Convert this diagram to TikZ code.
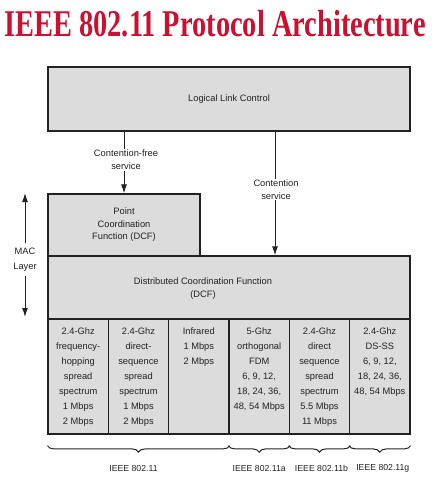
\documentclass[tikz,border=0pt]{standalone}
\usepackage{fontspec}
\setmainfont{Liberation Sans}
\newfontfamily\titlefont{Liberation Serif}
\usetikzlibrary{arrows.meta,decorations.pathreplacing}
\definecolor{boxfill}{HTML}{DCDCDC}
\definecolor{titlered}{HTML}{CC1030}
\definecolor{ink}{HTML}{222222}
\begin{document}
\begin{tikzpicture}[x=1pt,y=-1pt,
  box/.style={draw=ink, line width=1.3pt, fill=boxfill, inner sep=0pt},
  lbl/.style={font=\fontsize{9.3}{13}\selectfont, text=ink, align=center, inner sep=1pt},
  celltext/.style={font=\fontsize{9.3}{15}\selectfont, text=ink, align=center, anchor=north, inner sep=0pt},
  arr/.style={draw=ink, line width=1pt, -{Latex[length=9pt,width=6pt]}},
  brc/.style={draw=ink, line width=1pt, decorate, decoration={brace, mirror, amplitude=6.5pt}},
  brlbl/.style={font=\fontsize{8.7}{10}\selectfont, text=ink, midway, yshift=-23pt},
]
\fill[white] (0,0) rectangle (447,481);
\useasboundingbox (0,0) rectangle (447,481);

\node[anchor=base, text=titlered, font=\titlefont\bfseries\fontsize{28.4}{30}\selectfont, inner sep=0pt] (title) at (215,37) {\scalebox{1}[1.33]{IEEE 802.11 Protocol Architecture}};

\node[box, lbl, minimum width=362pt, minimum height=64pt] (llc) at (229,99) {Logical Link Control};
\node[box, lbl, font=\fontsize{9.3}{12.5}\selectfont, minimum width=152pt, minimum height=62pt] (pcf) at (124,225) {Point\\Coordination\\Function (DCF)};
\node[box, minimum width=362pt, minimum height=63pt] (dcf) at (229,287.5) {};
\node[lbl] (dcftext) at (203,288.5) {Distributed Coordination Function\\(DCF)};

\foreach \i/\x in {1/78.2,2/138.5,3/198.8,4/259.2,5/319.5,6/379.8}{
  \node[box, minimum width=60.33pt, minimum height=115pt] (c\i) at (\x,376.5) {};
}
\node[celltext] (t1) at ([yshift=-9pt]c1.north) {2.4-Ghz\\frequency-\\hopping\\spread\\spectrum\\1 Mbps\\2 Mbps};
\node[celltext] (t2) at ([yshift=-9pt]c2.north) {2.4-Ghz\\direct-\\sequence\\spread\\spectrum\\1 Mbps\\2 Mbps};
\node[celltext] (t3) at ([yshift=-9pt]c3.north) {Infrared\\1 Mbps\\2 Mbps};
\node[celltext] (t4) at ([yshift=-9pt]c4.north) {5-Ghz\\orthogonal\\FDM\\6, 9, 12,\\18, 24, 36,\\48, 54 Mbps};
\node[celltext] (t5) at ([yshift=-9pt]c5.north) {2.4-Ghz\\direct\\sequence\\spread\\spectrum\\5.5 Mbps\\11 Mbps};
\node[celltext] (t6) at ([yshift=-9pt]c6.north) {2.4-Ghz\\DS-SS\\6, 9, 12,\\18, 24, 36,\\48, 54 Mbps};

% service arrows
\draw[arr] (llc.south -| pcf.north) -- (pcf.north);
\node[lbl, fill=white] (cfs) at (126,160) {Contention-free\\service};
\coordinate (cx) at (275,0);
\draw[arr] (llc.south -| cx) -- (dcf.north -| cx);
\node[lbl, fill=white] (cs) at (276,189.5) {Contention\\service};

% MAC layer
\node[lbl, font=\fontsize{9.3}{15}\selectfont] (mac) at (25,259.5) {MAC\\Layer};
\coordinate (mactop) at (25,193);
\coordinate (macbot) at (25,317);
\draw[arr] ([yshift=4pt]mac.north) -- (mactop);
\draw[arr] ([yshift=-4pt]mac.south) -- (macbot);

% braces
\draw[brc] ([yshift=-11pt]c1.south west) -- node[brlbl, xshift=-5pt] (b1) {IEEE 802.11} ([yshift=-11pt]c3.south east);
\draw[brc] ([yshift=-11pt]c4.south west) -- node[brlbl] (b2) {IEEE 802.11a} ([yshift=-11pt]c4.south east);
\draw[brc] ([yshift=-11pt]c5.south west) -- node[brlbl, xshift=2pt] (b3) {IEEE 802.11b} ([yshift=-11pt]c5.south east);
\draw[brc] ([yshift=-11pt]c6.south west) -- node[brlbl, xshift=3pt] (b4) {IEEE 802.11g} ([yshift=-11pt]c6.south east);
\end{tikzpicture}
\end{document}
